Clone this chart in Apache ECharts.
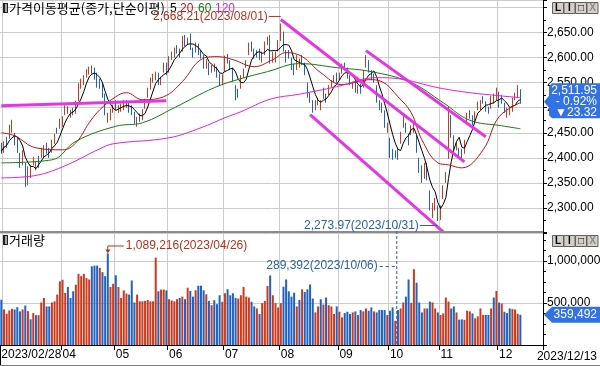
<!DOCTYPE html>
<html>
<head>
<meta charset="utf-8">
<script src="https://cdn.jsdelivr.net/npm/echarts/dist/echarts.min.js"></script>
<style>
html, body { margin: 0; padding: 0; background: #fff; }
#chart { width: 600px; height: 366px; }
</style>
</head>
<body>
<div id="chart"></div>
<script>
// 거래일 (2023)
var tradeDays = [
  '02/28',
  '03/02','03/03','03/06','03/07','03/08','03/09','03/10','03/13','03/14','03/15','03/16','03/17','03/20','03/21','03/22','03/23','03/24','03/27','03/28','03/29','03/30','03/31',
  '04/03','04/04','04/05','04/06','04/07','04/10','04/11','04/12','04/13','04/14','04/17','04/18','04/19','04/20','04/21','04/24','04/25','04/26','04/27','04/28',
  '05/02','05/03','05/04','05/08','05/09','05/10','05/11','05/12','05/15','05/16','05/17','05/18','05/19','05/22','05/23','05/24','05/25','05/26','05/30','05/31',
  '06/01','06/02','06/05','06/07','06/08','06/09','06/12','06/13','06/14','06/15','06/16','06/19','06/20','06/21','06/22','06/23','06/26','06/27','06/28','06/29','06/30',
  '07/03','07/04','07/05','07/06','07/07','07/10','07/11','07/12','07/13','07/14','07/17','07/18','07/19','07/20','07/21','07/24','07/25','07/26','07/27','07/28','07/31',
  '08/01','08/02','08/03','08/04','08/07','08/08','08/09','08/10','08/11','08/14','08/16','08/17','08/18','08/21','08/22','08/23','08/24','08/25','08/28','08/29','08/30','08/31',
  '09/01','09/04','09/05','09/06','09/07','09/08','09/11','09/12','09/13','09/14','09/15','09/18','09/19','09/20','09/21','09/22','09/25','09/26','09/27',
  '10/04','10/05','10/06','10/10','10/11','10/12','10/13','10/16','10/17','10/18','10/19','10/20','10/23','10/24','10/25','10/26','10/27','10/30','10/31',
  '11/01','11/02','11/03','11/06','11/07','11/08','11/09','11/10','11/13','11/14','11/15','11/16','11/17','11/20','11/21','11/22','11/23','11/24','11/27','11/28','11/29','11/30',
  '12/01','12/04','12/05','12/06','12/07','12/08','12/11','12/12','12/13'
];

// 일봉 [시가, 종가, 저가, 고가]
var candles = [
  [2425,2413,2408,2430],
  // 03
  [2418,2429,2410,2433],[2435,2432,2420,2442],[2440,2463,2438,2466],[2455,2463,2450,2476],
  [2447,2432,2425,2450],[2433,2419,2410,2440],[2405,2395,2380,2410],[2390,2411,2385,2415],
  [2385,2349,2342,2390],[2360,2380,2345,2383],[2368,2378,2360,2386],[2395,2396,2385,2402],
  [2383,2388,2375,2392],[2400,2389,2380,2404],[2405,2417,2400,2420],[2405,2419,2400,2425],
  [2425,2415,2408,2430],[2410,2409,2400,2420],[2415,2434,2410,2436],[2432,2444,2428,2448],
  [2456,2453,2448,2460],[2460,2477,2458,2478],
  // 04
  [2465,2480,2462,2483],[2490,2501,2485,2505],[2497,2495,2488,2503],[2488,2491,2480,2496],[2495,2490,2485,2500],
  [2490,2512,2488,2514],[2515,2548,2513,2549],[2550,2551,2538,2558],[2555,2562,2545,2565],[2565,2571,2560,2577],
  [2575,2576,2566,2582],[2580,2575,2568,2584],[2575,2563,2556,2580],[2560,2544,2540,2570],[2550,2544,2538,2558],
  [2545,2524,2520,2550],[2525,2489,2485,2528],[2480,2485,2470,2490],[2488,2496,2475,2498],[2500,2502,2490,2506],
  // 05
  [2510,2501,2495,2515],[2498,2501,2490,2505],[2500,2501,2492,2508],[2505,2509,2495,2515],[2510,2510,2500,2515],
  [2505,2497,2490,2510],[2500,2491,2485,2505],[2488,2475,2468,2492],[2475,2479,2462,2482],[2482,2480,2472,2488],
  [2478,2495,2475,2497],[2500,2515,2498,2518],[2525,2538,2520,2540],[2540,2557,2536,2560],[2555,2563,2550,2568],
  [2565,2568,2555,2572],[2565,2555,2545,2570],[2552,2559,2545,2562],[2572,2586,2570,2590],[2584,2577,2565,2590],
  // 06
  [2575,2601,2570,2603],[2610,2601,2595,2612],[2605,2615,2600,2620],[2620,2616,2608,2625],[2612,2610,2600,2618],
  [2615,2641,2612,2643],[2640,2629,2622,2645],[2630,2638,2625,2640],[2640,2619,2615,2648],[2615,2609,2600,2620],
  [2615,2626,2610,2630],[2625,2610,2605,2628],[2610,2605,2598,2615],[2600,2582,2578,2605],[2585,2594,2578,2597],
  [2585,2570,2565,2590],[2578,2583,2570,2586],[2580,2581,2572,2588],[2580,2564,2560,2582],[2565,2550,2545,2568],
  [2550,2564,2545,2567],
  // 07
  [2575,2602,2572,2604],[2605,2593,2588,2607],[2590,2579,2575,2595],[2575,2556,2552,2580],[2540,2527,2515,2545],
  [2530,2529,2520,2538],[2540,2562,2538,2565],[2565,2575,2560,2578],[2585,2591,2580,2595],[2610,2628,2605,2630],
  [2630,2619,2612,2632],[2615,2605,2598,2618],[2610,2608,2600,2615],[2612,2600,2595,2618],[2595,2610,2590,2612],
  [2610,2629,2605,2632],[2635,2636,2625,2642],[2640,2592,2588,2645],[2600,2604,2590,2612],[2595,2608,2590,2612],
  [2615,2633,2612,2635],
  // 08
  [2635,2667,2633,2668.21],[2650,2617,2612,2652],[2610,2605,2590,2615],[2610,2603,2598,2615],[2595,2581,2575,2600],
  [2580,2574,2565,2588],[2580,2602,2575,2605],[2590,2591,2580,2598],[2600,2591,2585,2605],[2585,2571,2565,2590],
  [2545,2526,2520,2550],[2525,2520,2510,2530],[2510,2505,2490,2515],[2505,2509,2495,2515],[2510,2515,2505,2520],
  [2505,2506,2495,2515],[2520,2538,2518,2540],[2525,2519,2510,2528],[2530,2543,2525,2545],[2545,2552,2540,2555],
  [2555,2561,2550,2565],[2565,2556,2550,2570],
  // 09
  [2560,2564,2555,2570],[2570,2585,2568,2588],[2585,2582,2575,2590],[2575,2563,2558,2580],[2560,2548,2545,2565],
  [2545,2548,2538,2552],[2550,2537,2530,2555],[2535,2539,2528,2545],[2545,2535,2528,2548],[2545,2573,2540,2575],
  [2585,2601,2580,2605],[2590,2575,2570,2595],[2570,2559,2555,2575],[2565,2560,2550,2568],[2540,2515,2510,2545],
  [2510,2508,2495,2515],[2505,2496,2490,2510],[2490,2463,2460,2495],[2455,2465,2450,2470],
  // 10
  [2435,2406,2400,2440],[2410,2404,2396,2418],[2410,2409,2400,2415],[2410,2403,2396,2420],[2430,2450,2428,2452],
  [2465,2480,2460,2483],[2465,2456,2450,2470],[2440,2436,2425,2448],[2450,2460,2445,2465],[2455,2463,2450,2470],
  [2440,2416,2410,2445],[2395,2375,2370,2400],[2375,2357,2350,2385],[2365,2384,2358,2390],[2380,2363,2355,2390],
  [2330,2299,2295,2335],[2290,2303,2280,2310],[2310,2311,2295,2320],[2300,2278,2273.97,2305],
  // 11
  [2280,2302,2276,2305],[2320,2343,2318,2345],[2355,2368,2350,2372],[2400,2502,2398,2502],[2480,2444,2440,2485],
  [2440,2422,2415,2445],[2425,2427,2415,2432],[2415,2410,2400,2420],[2415,2404,2398,2418],[2410,2433,2408,2436],
  [2475,2487,2470,2490],[2490,2488,2478,2495],[2480,2470,2465,2485],[2475,2491,2470,2493],[2500,2510,2495,2512],
  [2500,2512,2495,2515],[2520,2515,2508,2523],[2510,2497,2492,2513],[2497,2496,2488,2502],[2500,2522,2498,2524],
  [2515,2520,2508,2528],[2520,2535,2515,2540],
  // 12
  [2530,2505,2500,2532],[2520,2515,2508,2525],[2505,2495,2490,2510],[2485,2494,2480,2500],[2490,2492,2485,2498],
  [2495,2518,2492,2520],[2520,2525,2515,2530],[2525,2535.27,2520,2545],[2535,2511.95,2508,2537]
];

// 거래량 (천주)
var volumes = [
  539000,
  423000,372000,411000,431000,423000,450000,400000,423000,470000,403000,306000,380000,355000,355000,506000,560000,459000,459000,506000,520000,600000,757000,
  776000,620000,690000,560000,640000,718000,847000,820000,847000,796000,780000,937000,945000,945000,918000,867000,820000,1089216,690000,729000,
  830000,690000,560000,650000,612000,600000,768000,506000,600000,520000,520000,525000,535000,520000,520000,1040000,640000,660000,660000,650000,
  545000,530000,520000,545000,560000,576000,545000,682000,643000,576000,651000,706000,706000,651000,604000,525000,474000,533000,486000,592000,514000,
  616000,663000,592000,616000,561000,553000,592000,690000,576000,565000,514000,459000,435000,369000,498000,525000,702000,827000,592000,498000,447000,
  498000,694000,780000,639000,576000,623000,459000,537000,663000,631000,663000,721000,553000,388000,459000,545000,482000,565000,474000,459000,369000,459000,
  396000,329000,380000,396000,369000,388000,400000,357000,416000,400000,435000,408000,447000,400000,388000,416000,416000,416000,357000,
  408000,447000,289392,416000,435000,506000,576000,780000,502000,902000,741000,506000,388000,435000,435000,517000,506000,435000,388000,
  357000,376000,565000,517000,435000,459000,388000,302000,305000,300000,408000,400000,376000,318000,341000,435000,357000,357000,357000,435000,565000,643000,
  506000,494000,396000,380000,435000,427000,423000,372000,359492
];

// 이동평균선 판독값 [거래일 index, 값]
var ma20Points = [[0,2450],[5,2444],[13,2420],[23,2416],[28,2430],[33,2470],[37,2496],[43,2522],[47,2530],[53,2516],
  [61,2522],[68,2552],[75,2596],[81,2602],[87,2596],[95,2582],[102,2596],[107,2610],[113,2602],[120,2570],[128,2546],
  [138,2556],[143,2552],[149,2522],[154,2490],[158,2436],[164,2390],[168,2386],[173,2380],[181,2416],[187,2482],[195,2510]];
var ma60Points = [[0,2390],[19,2396],[28,2433],[43,2463],[53,2470],[65,2500],[80,2540],[90,2558],[100,2572],[112,2588],
  [126,2580],[139,2572],[154,2550],[166,2510],[176,2475],[188,2464],[195,2458]];
var ma120Points = [[0,2360],[12,2364],[23,2382],[37,2418],[42,2428],[63,2440],[75,2460],[84,2480],[90,2492],[101,2517],
  [112,2527],[126,2542],[141,2560],[149,2558],[164,2540],[176,2530],[187,2524],[195,2520]];

// 추세선 [[index, 값], [index, 값]]
var trendLines = [
  [[0, 2504], [62, 2514]],
  [[105, 2676], [174, 2392]],
  [[137, 2614], [182, 2442]],
  [[116, 2486], [166, 2252]]
];

var UP = '#cc3a1e', DOWN = '#1f62c2';
var AXIS_FONT = '"Liberation Sans", Arial, sans-serif';
var KR_FONT = '"Noto Sans CJK KR", sans-serif';
var SLOTS = 204;

var closes = candles.map(function (c) { return c[1]; });
var ma5 = closes.map(function (c, i) {
  var from = Math.max(0, i - 4), sum = 0;
  for (var k = from; k <= i; k++) sum += closes[k];
  return +(sum / (i - from + 1)).toFixed(2);
});

var categories = tradeDays.slice();
while (categories.length < SLOTS) categories.push('');
var monthStart = categories.map(function (d, i) {
  return i > 0 && d !== '' && d.slice(0, 2) !== categories[i - 1].slice(0, 2);
});
function showLabel(i) {
  return i === 0 || (monthStart[i] && categories[i].slice(0, 2) !== '03');
}
function showSplit(i) { return monthStart[i]; }

function fmt2(v) {
  return v.toLocaleString('en-US', {minimumFractionDigits: 2, maximumFractionDigits: 2});
}
function fmt0(v) { return v.toLocaleString('en-US'); }

var chart = echarts.init(document.getElementById('chart'));

var option = {
  animation: false,
  backgroundColor: '#fff',
  grid: [
    {left: 0, right: 57, top: 0, height: 233, outerBoundsMode: 'none'},
    {left: 0, right: 57, top: 232, height: 113, outerBoundsMode: 'none'}
  ],
  xAxis: [
    {
      type: 'category', gridIndex: 0, data: categories, boundaryGap: true,
      axisLine: {show: false}, axisTick: {show: false}, axisLabel: {show: false},
      splitLine: {show: true, interval: showSplit, lineStyle: {color: '#cccccc', width: 1}}
    },
    {
      type: 'category', gridIndex: 1, data: categories, boundaryGap: true,
      axisLine: {show: true, lineStyle: {color: '#000', width: 1}},
      axisTick: {show: true, interval: showLabel, length: 5, lineStyle: {color: '#000'}},
      axisLabel: {
        show: true, interval: showLabel, align: 'left', margin: 4,
        fontSize: 12, fontFamily: AXIS_FONT, color: '#000',
        formatter: function (value, index) {
          return index === 0 ? '2023/' + value : value.slice(0, 2);
        }
      },
      splitLine: {show: true, interval: showSplit, lineStyle: {color: '#cccccc', width: 1}}
    }
  ],
  yAxis: [
    {
      type: 'value', gridIndex: 0, position: 'right', min: 2250, max: 2715, interval: 50,
      axisLine: {show: true, lineStyle: {color: '#000'}},
      axisTick: {show: true, length: 4, lineStyle: {color: '#000'}},
      minorTick: {show: true, splitNumber: 2, length: 3, lineStyle: {color: '#000'}},
      axisLabel: {
        margin: 4, fontSize: 12, fontFamily: AXIS_FONT, color: '#000',
        formatter: function (v) {
          if (v % 50 !== 0 || v < 2300 || v > 2650) return '';
          return fmt2(v);
        }
      },
      splitLine: {show: true, lineStyle: {color: '#cccccc'}}
    },
    {
      type: 'value', gridIndex: 1, position: 'right', min: 0, max: 1345000, interval: 500000,
      axisLine: {show: true, lineStyle: {color: '#000'}},
      axisTick: {show: true, length: 4, lineStyle: {color: '#000'}},
      minorTick: {show: true, splitNumber: 4, length: 3, lineStyle: {color: '#000'}},
      axisLabel: {
        margin: 4, fontSize: 12, fontFamily: AXIS_FONT, color: '#000',
        formatter: function (v) {
          if (v === 0 || v > 1000000 || v % 500000 !== 0) return '';
          return fmt0(v);
        }
      },
      splitLine: {show: true, lineStyle: {color: '#cccccc'}}
    }
  ],
  series: [
    {
      name: '일봉', type: 'candlestick', xAxisIndex: 0, yAxisIndex: 0, data: candles,
      barWidth: 1, silent: true,
      itemStyle: {color: UP, color0: DOWN, borderColor: UP, borderColor0: DOWN, borderWidth: 1}
    },
    {
      name: '5', type: 'line', xAxisIndex: 0, yAxisIndex: 0, data: ma5, symbol: 'none', silent: true,
      lineStyle: {color: '#000', width: 1}
    },
    {
      name: '20', type: 'line', xAxisIndex: 0, yAxisIndex: 0, data: ma20Points, symbol: 'none', silent: true,
      smooth: 0.4, lineStyle: {color: '#c81010', width: 1}
    },
    {
      name: '60', type: 'line', xAxisIndex: 0, yAxisIndex: 0, data: ma60Points, symbol: 'none', silent: true,
      smooth: 0.4, lineStyle: {color: '#108010', width: 1}
    },
    {
      name: '120', type: 'line', xAxisIndex: 0, yAxisIndex: 0, data: ma120Points, symbol: 'none', silent: true,
      smooth: 0.4, lineStyle: {color: '#e020e0', width: 1}
    },
    {
      name: '추세선', type: 'line', xAxisIndex: 0, yAxisIndex: 0, data: [], silent: true,
      markLine: {
        silent: true, symbol: ['none', 'none'], animation: false,
        label: {show: false},
        lineStyle: {color: '#e535e5', width: 3, type: 'solid'},
        emphasis: {disabled: true},
        data: trendLines.map(function (t) { return [{coord: t[0]}, {coord: t[1]}]; })
      }
    },
    {
      name: '거래량', type: 'bar', xAxisIndex: 1, yAxisIndex: 1, data: volumes, barWidth: 2, silent: true,
      itemStyle: {
        color: function (p) {
          var i = p.dataIndex;
          if (i === 0) return candles[0][1] >= candles[0][0] ? UP : DOWN;
          return closes[i] >= closes[i - 1] ? UP : DOWN;
        }
      }
    }
  ]
};
chart.setOption(option);

// 패널 장식, 라벨, 주석
var g = [];
function text(x, y, str, color, font, align) {
  g.push({type: 'text', z: 50, x: x, y: y, style: {
    text: str, fill: color, font: font, textAlign: align || 'left', textVerticalAlign: 'middle'}});
}
function line(x1, y1, x2, y2, color, w, dash) {
  g.push({type: 'line', z: 49, shape: {x1: x1, y1: y1, x2: x2, y2: y2},
    style: {stroke: color, lineWidth: w || 1, lineDash: dash || null}});
}
function icon(y) {
  g.push({type: 'rect', z: 50, shape: {x: 3, y: y, width: 5, height: 10}, style: {fill: '#222'}});
  g.push({type: 'rect', z: 51, shape: {x: 5, y: y + 1, width: 2, height: 8}, style: {fill: '#aaa'}});
}
function buttons(y) {
  var marks = ['L', 'I', '□', 'X'];
  marks.forEach(function (m, k) {
    var x = 552.5 + k * 11.5;
    g.push({type: 'rect', z: 60, shape: {x: x, y: y, width: 11, height: 11},
      style: {fill: '#d4d0c8', stroke: '#606060', lineWidth: 1}});
    g.push({type: 'text', z: 61, x: x + 5.5, y: y + 6, style: {
      text: m, fill: k === 3 ? '#8a8a8a' : '#000', font: 'bold 10px ' + AXIS_FONT,
      textAlign: 'center', textVerticalAlign: 'middle'}});
  });
}

// 패널 구분선, 하단 프레임
line(0, 232, 543, 232, '#8c8c8c', 2);
line(0.5, 346, 0.5, 366, '#000', 1);
line(0, 365.5, 600, 365.5, '#808080', 1);

// 제목
icon(3);
text(9, 8.5, '가격이동평균(종가,단순이평)', '#000', '13px ' + KR_FONT);
text(170, 8.5, '5', '#000', '12px ' + AXIS_FONT);
text(180, 8.5, '20', '#c81010', '12px ' + AXIS_FONT);
text(198, 8.5, '60', '#108010', '12px ' + AXIS_FONT);
text(215, 8.5, '120', '#e020e0', '12px ' + AXIS_FONT);
icon(235);
text(9, 240.5, '거래량', '#000', '13px ' + KR_FONT);
buttons(2.5);
buttons(235.5);

// 마지막 날짜
text(597, 357, '2023/' + tradeDays[tradeDays.length - 1], '#000', '12px ' + AXIS_FONT, 'right');

// 최고가, 최저가
var hiIdx = 0, loIdx = 0;
candles.forEach(function (c, i) {
  if (c[3] > candles[hiIdx][3]) hiIdx = i;
  if (c[2] < candles[loIdx][2]) loIdx = i;
});
var RED_TXT = '#b4321e', BLUE_TXT = '#2a62b0';
var pHi = chart.convertToPixel({gridIndex: 0}, [hiIdx, candles[hiIdx][3]]);
text(pHi[0] - 13, pHi[1] - 7, fmt2(candles[hiIdx][3]) + '(2023/' + tradeDays[hiIdx] + ')', RED_TXT, '12px ' + AXIS_FONT, 'right');
line(pHi[0] - 12, pHi[1] - 7, pHi[0], pHi[1] - 7, RED_TXT, 1);
var pLo = chart.convertToPixel({gridIndex: 0}, [loIdx, candles[loIdx][2]]);
text(pLo[0] - 19, pLo[1] + 4.5, fmt2(candles[loIdx][2]) + '(2023/' + tradeDays[loIdx] + ')', BLUE_TXT, '12px ' + AXIS_FONT, 'right');
line(pLo[0] - 18, pLo[1] + 4.5, pLo[0], pLo[1] + 4.5, BLUE_TXT, 1);

// 최대, 최소 거래량
var vMax = 0, vMin = 0;
volumes.forEach(function (v, i) {
  if (v > volumes[vMax]) vMax = i;
  if (v < volumes[vMin]) vMin = i;
});
var pVmax = chart.convertToPixel({gridIndex: 1}, [vMax, volumes[vMax]]);
var ay = pVmax[1] - 7.5;
text(pVmax[0] + 18, ay, fmt0(volumes[vMax]) + '(2023/' + tradeDays[vMax] + ')', RED_TXT, '12px ' + AXIS_FONT);
g.push({type: 'polyline', z: 49, shape: {points: [[pVmax[0] + 16, ay], [pVmax[0], ay], [pVmax[0], pVmax[1] - 3]]},
  style: {stroke: RED_TXT, lineWidth: 1, fill: null}});
g.push({type: 'polygon', z: 49, shape: {points: [[pVmax[0] - 2.5, pVmax[1] - 4], [pVmax[0] + 2.5, pVmax[1] - 4], [pVmax[0], pVmax[1]]]},
  style: {fill: RED_TXT}});
var pVmin = chart.convertToPixel({gridIndex: 1}, [vMin, volumes[vMin]]);
var mx = pVmin[0] + 1.5;
text(mx - 19, 266, fmt0(volumes[vMin]) + '(2023/' + tradeDays[vMin] + ')', BLUE_TXT, '12px ' + AXIS_FONT, 'right');
line(mx - 17, 266.5, mx, 266.5, BLUE_TXT, 1, [3, 3]);
line(mx, 226, mx, 345, BLUE_TXT, 1, [3, 2]);

// 현재가 태그
var last = closes.length - 1;
var chg = closes[last] - closes[last - 1];
var pct = chg / closes[last - 1] * 100;
var TAG = '#3172e6';
var pC = chart.convertToPixel({gridIndex: 0}, [last, closes[last]]);
var ty = pC[1];
g.push({type: 'polygon', z: 70, shape: {points: [[552, ty - 18.5], [600, ty - 18.5], [600, ty + 16.5], [552, ty + 16.5],
  [549, ty + 13.5], [549, ty + 6], [544, ty], [549, ty - 6], [549, ty - 15.5]]}, style: {fill: TAG}});
g.push({type: 'text', z: 71, x: 597, y: ty - 11.5, style: {text: fmt2(closes[last]), fill: '#fff',
  font: '12px ' + AXIS_FONT, textAlign: 'right', textVerticalAlign: 'middle'}});
g.push({type: 'text', z: 71, x: 597, y: ty, style: {text: (pct < 0 ? '- ' : '+ ') + Math.abs(pct).toFixed(2) + '%', fill: '#fff',
  font: '12px ' + AXIS_FONT, textAlign: 'right', textVerticalAlign: 'middle'}});
g.push({type: 'text', z: 71, x: 597, y: ty + 10.5, style: {text: (chg < 0 ? '▼' : '▲') + Math.abs(chg).toFixed(2), fill: '#fff',
  font: '12px ' + AXIS_FONT, textAlign: 'right', textVerticalAlign: 'middle'}});

var pV = chart.convertToPixel({gridIndex: 1}, [last, volumes[last]]);
var vy = pV[1];
g.push({type: 'polygon', z: 70, shape: {points: [[552, vy - 8], [600, vy - 8], [600, vy + 8], [552, vy + 8],
  [549, vy + 5], [544, vy], [549, vy - 5]]}, style: {fill: TAG}});
g.push({type: 'text', z: 71, x: 597, y: vy, style: {text: fmt0(volumes[last]), fill: '#fff',
  font: '12px ' + AXIS_FONT, textAlign: 'right', textVerticalAlign: 'middle'}});

chart.setOption({graphic: g});
</script>
</body>
</html>
